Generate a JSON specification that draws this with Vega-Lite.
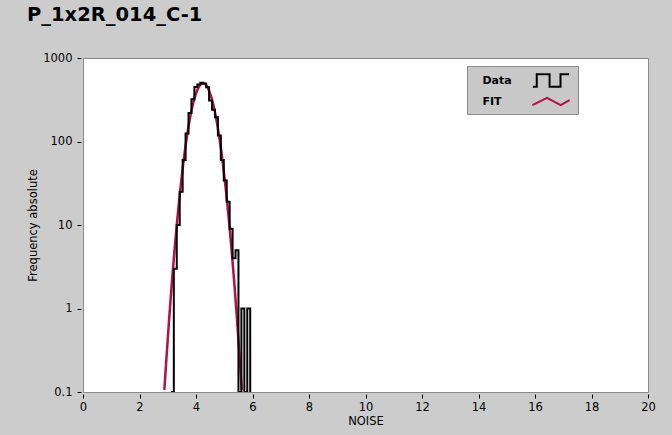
{
  "$schema": "https://vega.github.io/schema/vega-lite/v6.json",
  "width": 565,
  "height": 334,
  "autosize": {"type": "none"},
  "padding": {"left": 83, "top": 58, "right": 24, "bottom": 43},
  "background": "#cccccc",
  "title": {
    "text": "P_1x2R_014_C-1",
    "anchor": "start",
    "frame": "group",
    "dx": -56,
    "offset": 12,
    "baseline": "alphabetic",
    "font": "DejaVu Sans",
    "fontSize": 19.5,
    "fontWeight": "bold",
    "color": "#000000"
  },
  "config": {
    "view": {"fill": "#ffffff", "stroke": "#8a8a8a", "strokeWidth": 1},
    "axis": {
      "labelFont": "DejaVu Sans",
      "labelFontSize": 11.5,
      "labelColor": "#000000",
      "titleFont": "DejaVu Sans",
      "titleFontSize": 11.5,
      "titleFontWeight": "normal",
      "titleColor": "#000000",
      "tickColor": "#000000",
      "grid": false,
      "domain": false,
      "labelFlush": false
    }
  },
  "datasets": {
    "hist": [
      {"noise": 3.111, "count": 0},
      {"noise": 3.215, "count": 3},
      {"noise": 3.319, "count": 10},
      {"noise": 3.423, "count": 25},
      {"noise": 3.527, "count": 60},
      {"noise": 3.631, "count": 125},
      {"noise": 3.735, "count": 220},
      {"noise": 3.839, "count": 320},
      {"noise": 3.943, "count": 450},
      {"noise": 4.047, "count": 480},
      {"noise": 4.151, "count": 505},
      {"noise": 4.255, "count": 495},
      {"noise": 4.359, "count": 445},
      {"noise": 4.463, "count": 310},
      {"noise": 4.567, "count": 240},
      {"noise": 4.671, "count": 195},
      {"noise": 4.775, "count": 118},
      {"noise": 4.879, "count": 60},
      {"noise": 4.983, "count": 34},
      {"noise": 5.087, "count": 19},
      {"noise": 5.191, "count": 9},
      {"noise": 5.295, "count": 4},
      {"noise": 5.399, "count": 5},
      {"noise": 5.503, "count": 0},
      {"noise": 5.607, "count": 1},
      {"noise": 5.711, "count": 0},
      {"noise": 5.815, "count": 1},
      {"noise": 5.919, "count": 0}
    ],
    "fit": [
      {"noise": 2.88, "freq": 0.106},
      {"noise": 2.95, "freq": 0.245},
      {"noise": 3.05, "freq": 0.758},
      {"noise": 3.15, "freq": 2.14},
      {"noise": 3.25, "freq": 5.5},
      {"noise": 3.35, "freq": 12.97},
      {"noise": 3.45, "freq": 27.9},
      {"noise": 3.55, "freq": 54.9},
      {"noise": 3.65, "freq": 98.7},
      {"noise": 3.75, "freq": 162},
      {"noise": 3.85, "freq": 243},
      {"noise": 3.95, "freq": 333},
      {"noise": 4.05, "freq": 418},
      {"noise": 4.15, "freq": 478},
      {"noise": 4.25, "freq": 500},
      {"noise": 4.35, "freq": 478},
      {"noise": 4.45, "freq": 418},
      {"noise": 4.55, "freq": 333},
      {"noise": 4.65, "freq": 243},
      {"noise": 4.75, "freq": 162},
      {"noise": 4.85, "freq": 98.7},
      {"noise": 4.95, "freq": 54.9},
      {"noise": 5.05, "freq": 27.9},
      {"noise": 5.15, "freq": 12.97},
      {"noise": 5.25, "freq": 5.5},
      {"noise": 5.35, "freq": 2.14},
      {"noise": 5.45, "freq": 0.758},
      {"noise": 5.55, "freq": 0.245},
      {"noise": 5.62, "freq": 0.106}
    ]
  },
  "layer": [
    {
      "data": {"name": "fit"},
      "mark": {"type": "line", "interpolate": "monotone", "strokeWidth": 2.5, "clip": true},
      "encoding": {
        "x": {
          "field": "noise",
          "type": "quantitative",
          "scale": {"domain": [0, 20], "nice": false, "zero": false},
          "axis": {
            "title": "NOISE",
            "values": [0, 2, 4, 6, 8, 10, 12, 14, 16, 18, 20],
            "format": "d",
            "offset": 2,
            "tickSize": 4,
            "labelPadding": 3,
            "titlePadding": 3
          }
        },
        "y": {
          "field": "freq",
          "type": "quantitative",
          "scale": {"type": "log", "domain": [0.1, 1000], "nice": false, "clamp": true},
          "axis": {
            "title": "Frequency absolute",
            "values": [0.1, 1, 10, 100, 1000],
            "format": "~g",
            "offset": 2,
            "tickSize": 4,
            "labelPadding": 5,
            "titlePadding": 4.5
          }
        },
        "color": {
          "datum": "FIT",
          "type": "nominal",
          "scale": {"domain": ["Data", "FIT"], "range": ["#000000", "#b40f46"]},
          "legend": {
            "title": null,
            "orient": "none",
            "legendX": 384,
            "legendY": 8,
            "padding": 4,
            "fillColor": "#c8c8c8",
            "strokeColor": "#8a8a8a",
            "rowPadding": 0,
            "symbolSize": 361,
            "symbolStrokeWidth": 2,
            "symbolOffset": 69.5,
            "labelOffset": -79.1,
            "labelFont": "DejaVu Sans",
            "labelFontWeight": "bold",
            "labelFontSize": 11,
            "labelColor": "#000000",
            "encode": {
              "symbols": {
                "update": {
                  "shape": {"signal": "datum.value === 'Data' ? 'M-1.9,0.67H-1.5V-0.67H-0.15V0.67H1.0V-0.67H1.9' : 'M-1.96,0.39L-0.42,-0.39L1.02,0.39L1.96,-0.14'"},
                  "fill": {"value": "transparent"}
                }
              }
            }
          }
        }
      }
    },
    {
      "data": {"name": "hist"},
      "mark": {"type": "line", "interpolate": "step-after", "strokeWidth": 2, "clip": true},
      "encoding": {
        "x": {"field": "noise", "type": "quantitative"},
        "y": {"field": "count", "type": "quantitative"},
        "color": {"datum": "Data", "type": "nominal"}
      }
    }
  ]
}
